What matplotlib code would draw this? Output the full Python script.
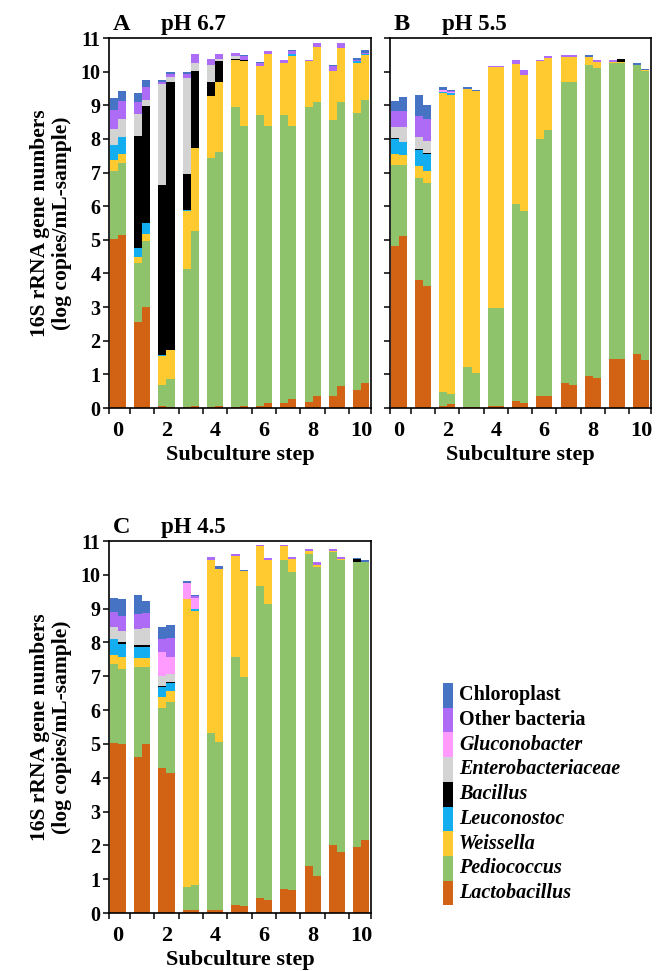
import matplotlib
matplotlib.use('Agg')
import matplotlib.pyplot as plt
import numpy as np
from matplotlib.patches import Rectangle

plt.rcParams['font.family'] = ['Liberation Serif', 'DejaVu Serif']
plt.rcParams['font.weight'] = 'bold'

steps = list(range(11))
categories = ['Lactobacillus', 'Pediococcus', 'Weissella', 'Leuconostoc', 'Bacillus',
              'Enterobacteriaceae', 'Gluconobacter', 'Other bacteria', 'Chloroplast']
colors = ['#D26214', '#8EC26B', '#FFCA30', '#12AEEF', '#000000',
          '#D3D3D3', '#FF9BFF', '#AE6CF6', '#4673C4']
italic = [True, True, True, True, True, True, True, False, False]

# values: (step0 rep1, step0 rep2, step1 rep1, step1 rep2, ...) in log copies/mL
# ---- Panel A, pH 6.7
A_lacto = [5.03, 5.13, 2.56, 2.99, 0.06, 0.03, 0.03, 0.06, 0.03, 0.06, 0.02, 0.06, 0.05, 0.14, 0.14, 0.27, 0.18, 0.37, 0.37, 0.65, 0.55, 0.73]
A_pedio = [2.03, 2.16, 1.75, 1.97, 0.62, 0.83, 4.11, 5.20, 7.40, 7.55, 8.94, 8.31, 8.67, 8.23, 8.58, 8.10, 8.78, 8.72, 8.18, 8.44, 8.21, 8.44]
A_weiss = [0.32, 0.27, 0.18, 0.21, 0.86, 0.86, 1.72, 2.47, 1.86, 2.09, 1.39, 1.94, 1.46, 2.15, 1.53, 2.10, 1.35, 1.65, 1.48, 1.61, 1.51, 1.33]
A_leuco = [0.44, 0.49, 0.27, 0.32, 0.03, 0.00, 0.04, 0.00, 0.00, 0.00, 0.00, 0.00, 0.00, 0.00, 0.00, 0.05, 0.00, 0.00, 0.00, 0.00, 0.04, 0.02]
A_bacil = [0.00, 0.00, 3.32, 3.50, 5.05, 7.98, 1.06, 2.30, 0.41, 0.63, 0.03, 0.04, 0.00, 0.00, 0.00, 0.00, 0.00, 0.00, 0.00, 0.00, 0.00, 0.00]
A_entero = [0.47, 0.53, 0.66, 0.18, 3.01, 0.15, 2.84, 0.22, 0.50, 0.05, 0.07, 0.00, 0.00, 0.00, 0.00, 0.00, 0.00, 0.00, 0.00, 0.00, 0.00, 0.00]
A_gluco = [0.00] * 22
A_other = [0.58, 0.55, 0.35, 0.37, 0.07, 0.08, 0.13, 0.27, 0.18, 0.14, 0.10, 0.10, 0.07, 0.08, 0.10, 0.08, 0.04, 0.10, 0.13, 0.14, 0.05, 0.03]
A_chloro = [0.35, 0.28, 0.27, 0.21, 0.05, 0.05, 0.05, 0.00, 0.00, 0.00, 0.00, 0.05, 0.05, 0.00, 0.00, 0.05, 0.00, 0.00, 0.05, 0.00, 0.06, 0.10]

# ---- Panel B, pH 5.5
B_lacto = [4.82, 5.10, 3.80, 3.63, 0.06, 0.12, 0.03, 0.03, 0.06, 0.06, 0.21, 0.16, 0.37, 0.37, 0.73, 0.68, 0.95, 0.90, 1.47, 1.47, 1.62, 1.44]
B_pedio = [2.39, 2.13, 3.03, 3.07, 0.41, 0.30, 1.20, 1.02, 2.90, 2.90, 5.86, 5.69, 7.63, 7.88, 8.95, 9.00, 9.26, 9.21, 8.78, 8.78, 8.59, 8.57]
B_weiss = [0.33, 0.28, 0.35, 0.34, 8.89, 8.90, 8.26, 8.37, 7.17, 7.17, 4.16, 4.06, 2.33, 2.16, 0.75, 0.75, 0.22, 0.18, 0.05, 0.03, 0.00, 0.04]
B_leuco = [0.46, 0.39, 0.48, 0.52, 0.04, 0.04, 0.00, 0.00, 0.00, 0.00, 0.00, 0.00, 0.00, 0.00, 0.00, 0.00, 0.00, 0.00, 0.00, 0.00, 0.00, 0.00]
B_bacil = [0.03, 0.00, 0.03, 0.03, 0.00, 0.00, 0.00, 0.00, 0.00, 0.00, 0.00, 0.00, 0.00, 0.00, 0.00, 0.00, 0.00, 0.00, 0.00, 0.10, 0.00, 0.00]
B_entero = [0.32, 0.45, 0.38, 0.36, 0.00, 0.00, 0.00, 0.00, 0.00, 0.00, 0.00, 0.00, 0.00, 0.00, 0.00, 0.00, 0.00, 0.00, 0.00, 0.00, 0.00, 0.00]
B_gluco = [0.00, 0.00, 0.00, 0.00, 0.06, 0.04, 0.00, 0.00, 0.00, 0.00, 0.00, 0.00, 0.00, 0.00, 0.00, 0.00, 0.00, 0.00, 0.00, 0.00, 0.00, 0.00]
B_other = [0.49, 0.49, 0.62, 0.63, 0.00, 0.03, 0.00, 0.00, 0.04, 0.04, 0.13, 0.14, 0.03, 0.04, 0.05, 0.05, 0.00, 0.06, 0.05, 0.00, 0.00, 0.00]
B_chloro = [0.30, 0.40, 0.63, 0.43, 0.08, 0.03, 0.05, 0.03, 0.00, 0.00, 0.00, 0.00, 0.00, 0.00, 0.00, 0.00, 0.05, 0.00, 0.00, 0.00, 0.05, 0.04]

# ---- Panel C, pH 4.5
C_lacto = [5.04, 5.00, 4.60, 4.99, 4.28, 4.15, 0.10, 0.10, 0.10, 0.10, 0.25, 0.20, 0.43, 0.38, 0.72, 0.68, 1.40, 1.08, 2.00, 1.80, 1.95, 2.15]
C_pedio = [2.33, 2.22, 2.67, 2.28, 1.79, 2.10, 0.66, 0.73, 5.22, 4.95, 7.33, 6.79, 9.24, 8.76, 9.72, 9.40, 9.22, 9.14, 8.66, 8.64, 8.44, 8.22]
C_weiss = [0.26, 0.36, 0.26, 0.26, 0.31, 0.30, 8.52, 8.10, 5.12, 5.13, 2.98, 3.11, 1.17, 1.30, 0.40, 0.39, 0.09, 0.08, 0.05, 0.04, 0.00, 0.00]
C_leuco = [0.48, 0.38, 0.33, 0.33, 0.29, 0.25, 0.00, 0.05, 0.00, 0.00, 0.00, 0.00, 0.00, 0.00, 0.00, 0.00, 0.00, 0.00, 0.00, 0.00, 0.00, 0.00]
C_bacil = [0.00, 0.04, 0.07, 0.05, 0.03, 0.04, 0.00, 0.00, 0.00, 0.00, 0.00, 0.00, 0.00, 0.00, 0.00, 0.00, 0.00, 0.00, 0.00, 0.00, 0.07, 0.00]
C_entero = [0.36, 0.34, 0.46, 0.51, 0.31, 0.23, 0.00, 0.00, 0.00, 0.00, 0.00, 0.00, 0.00, 0.00, 0.00, 0.00, 0.00, 0.00, 0.00, 0.00, 0.00, 0.00]
C_gluco = [0.00, 0.00, 0.00, 0.00, 0.70, 0.51, 0.47, 0.33, 0.00, 0.00, 0.00, 0.00, 0.00, 0.00, 0.00, 0.00, 0.00, 0.00, 0.00, 0.00, 0.00, 0.00]
C_other = [0.44, 0.45, 0.45, 0.45, 0.40, 0.55, 0.00, 0.05, 0.08, 0.00, 0.06, 0.00, 0.05, 0.05, 0.05, 0.05, 0.05, 0.07, 0.05, 0.05, 0.00, 0.00]
C_chloro = [0.40, 0.49, 0.57, 0.36, 0.36, 0.39, 0.07, 0.03, 0.00, 0.07, 0.00, 0.05, 0.00, 0.00, 0.00, 0.00, 0.00, 0.00, 0.00, 0.00, 0.03, 0.07]

panels = [
    ('A', 'pH 6.7', [A_lacto, A_pedio, A_weiss, A_leuco, A_bacil, A_entero, A_gluco, A_other, A_chloro]),
    ('B', 'pH 5.5', [B_lacto, B_pedio, B_weiss, B_leuco, B_bacil, B_entero, B_gluco, B_other, B_chloro]),
    ('C', 'pH 4.5', [C_lacto, C_pedio, C_weiss, C_leuco, C_bacil, C_entero, C_gluco, C_other, C_chloro]),
]

W, H = 667, 971
fig = plt.figure(figsize=(W / 100, H / 100), dpi=100)

def px_axes(x0, y0, x1, y1):
    return fig.add_axes([x0 / W, 1 - y1 / H, (x1 - x0) / W, (y1 - y0) / H])

axes_px = [(109, 38, 371, 408), (390, 38, 651, 408), (109, 541, 371, 913)]

bar_w = 0.33
x_steps = np.array(steps, dtype=float)
xlim = (-0.36, 10.40)

for (letter, ph, series), box, idx in zip(panels, axes_px, range(3)):
    ax = px_axes(*box)
    for rep in range(2):
        xs = x_steps + (rep - 0.5) * bar_w
        bottom = np.zeros(len(steps))
        for vals, col in zip(series, colors):
            v = np.array(vals[rep::2])
            ax.bar(xs, v, width=bar_w, bottom=bottom, color=col, linewidth=0)
            bottom += v
    ax.set_xlim(*xlim)
    ax.set_ylim(0, 11)
    ax.set_yticks(range(0, 12))
    ax.set_xticks([xlim[0]] + [s + 0.5 for s in steps[:-1]] + [xlim[1]])
    ax.set_xticklabels([])
    ax.set_xticks(steps[::2], minor=True)
    ax.set_xticklabels([str(s) for s in steps[::2]], minor=True, fontsize=16, fontweight='bold')
    ax.tick_params(axis='x', which='minor', length=0, pad=9)
    ax.tick_params(axis='x', which='major', direction='out', length=4, width=1.1)
    ax.tick_params(axis='y', direction='out', length=4, width=1.1, labelsize=14.5, pad=2)
    if idx == 1:
        ax.set_yticklabels([])
    else:
        for t in ax.get_yticklabels():
            t.set_fontweight('bold')
        ax.set_ylabel('16S rRNA gene numbers\n(log copies/mL-sample)', fontsize=15.5,
                      fontweight='bold', labelpad=6, linespacing=1.15)
    for sp in ax.spines.values():
        sp.set_linewidth(1.2)
    ax.set_xlabel('Subculture step', fontsize=16, fontweight='bold', labelpad=3)
    ax.text(0.015, 1.022, letter, transform=ax.transAxes, fontsize=17.5, fontweight='bold',
            va='baseline', ha='left')
    ax.text(0.20, 1.022, ph, transform=ax.transAxes, fontsize=16.5, fontweight='bold',
            va='baseline', ha='left')

# legend (top entry = top of stack)
row_h = 24.7
top0 = 683
for i, k in enumerate(range(len(categories) - 1, -1, -1)):
    y_top = top0 + i * row_h
    fig.patches.append(Rectangle((443 / W, 1 - (y_top + row_h) / H), 10 / W, row_h / H,
                                 transform=fig.transFigure, facecolor=colors[k],
                                 edgecolor='none', figure=fig))
    fig.text(459 / W, 1 - (y_top + row_h / 2) / H, categories[k], fontsize=14.5,
             fontweight='bold', fontstyle='italic' if italic[k] else 'normal',
             va='center', ha='left')

fig.savefig('out.png', dpi=100)
